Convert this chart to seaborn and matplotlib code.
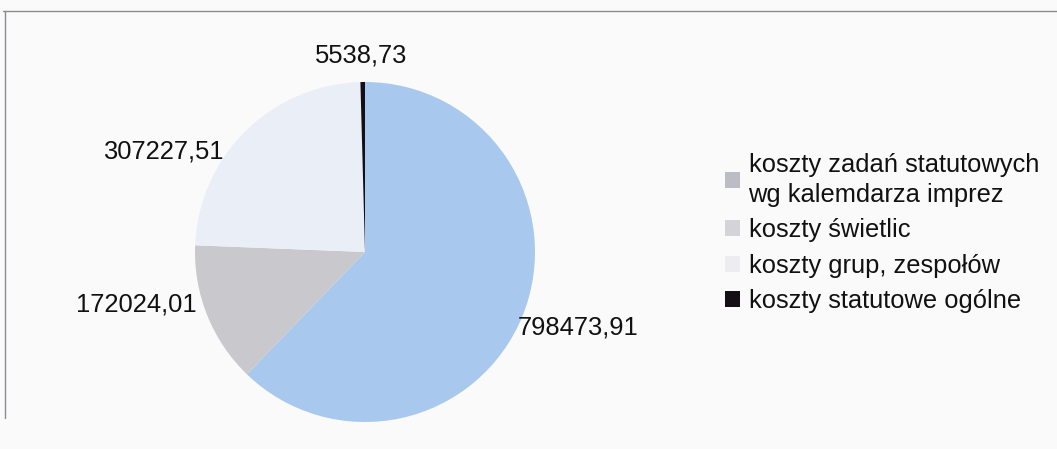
import matplotlib
matplotlib.use("Agg")
import matplotlib.pyplot as plt
import seaborn as sns
from matplotlib.lines import Line2D

# data
categories = ["koszty zadań statutowych\nwg kalemdarza imprez",
              "koszty świetlic",
              "koszty grup, zespołów",
              "koszty statutowe ogólne"]
values = [798473.91, 172024.01, 307227.51, 5538.73]
value_labels = ["798473,91", "172024,01", "307227,51", "5538,73"]
colors = ["#a9c8ee", "#c9c9cd", "#eaeef6", "#140f14"]
legend_colors = ["#bcbcc4", "#d3d3d8", "#ececf1", "#140f14"]

sns.set_theme(style="white")
plt.rcParams["font.family"] = ["Liberation Sans", "DejaVu Sans"]

W, H = 1057, 449
fig = plt.figure(figsize=(W / 100, H / 100), dpi=100)
fig.patch.set_facecolor("#fafafb")

# pie centre (365, 252) px, radius 170 px
cx, cy, r = 365, 252, 170
ax = fig.add_axes([(cx - r) / W, (H - cy - r) / H, 2 * r / W, 2 * r / H])
wedges, _ = ax.pie(values, colors=colors, startangle=90, counterclock=False,
                   radius=1, wedgeprops=dict(linewidth=0))
ax.set_xlim(-1, 1)
ax.set_ylim(-1, 1)
ax.set_aspect("equal")
ax.axis("off")

# value labels, positions in pie units
label_pos = [(0.90, -0.447, "left"), (-0.988, -0.306, "right"),
             (-0.835, 0.594, "right"), (-0.024, 1.153, "center")]
for txt, (x, y, ha) in zip(value_labels, label_pos):
    ax.text(x, y, txt, ha=ha, va="center", fontsize=18.4, color="#111111",
            clip_on=False)

# legend
leg = fig.legend(wedges, categories, loc="upper left",
                 bbox_to_anchor=(725 / W, (H - 153) / H), frameon=False,
                 fontsize=18.4, handlelength=0.6, handleheight=0.6,
                 handletextpad=0.32, labelspacing=0.45, borderpad=0,
                 borderaxespad=0)
for t in leg.get_texts():
    t.set_color("#111111")
    t.set_linespacing(1.3)
for h, c in zip(leg.legend_handles, legend_colors):
    h.set_facecolor(c)

# frame lines of the original chart area
fig.add_artist(Line2D([3 / W, 1], [(H - 11) / H, (H - 11) / H],
                      color="#8a8a92", linewidth=1))
fig.add_artist(Line2D([5 / W, 5 / W], [(H - 11) / H, (H - 418) / H],
                      color="#8a8a92", linewidth=1))

fig.savefig("out.png", dpi=100, facecolor=fig.get_facecolor())
